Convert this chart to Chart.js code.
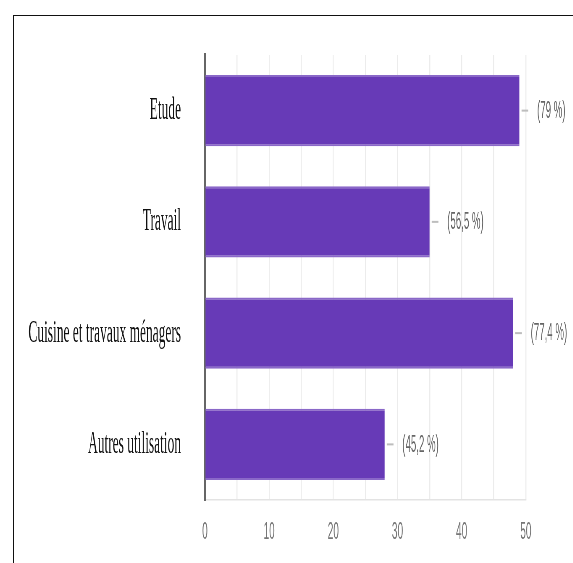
<!DOCTYPE html>
<html>
<head>
<meta charset="utf-8">
<script src="https://cdn.jsdelivr.net/npm/chart.js@4"></script>
<style>
  html, body { margin: 0; padding: 0; background: #fff; overflow: hidden; }
  #frame { position: absolute; left: 13px; top: 15px; width: 600px; height: 600px;
           border-left: 1px solid #111; border-top: 1px solid #111; }
  /* the original picture is squeezed sideways, so draw wide and squeeze */
  #wrap { position: absolute; left: 0; top: 0; width: 1364px; height: 563px;
          transform: scaleX(0.42); transform-origin: 0 0; }
</style>
</head>
<body>
<div id="frame"></div>
<div id="wrap"><canvas id="chart" width="1364" height="563"></canvas></div>
<script>
const categories = ['Etude', 'Travail', 'Cuisine et travaux ménagers', 'Autres utilisation'];
const counts = [49, 35, 48, 28];
const pctLabels = ['(79 %)', '(56,5 %)', '(77,4 %)', '(45,2 %)'];
const xTicks = [0, 10, 20, 30, 40, 50];

// dash + percentage text after every bar
const barLabels = {
  id: 'barLabels',
  afterDatasetsDraw(chart) {
    const ctx = chart.ctx;
    const meta = chart.getDatasetMeta(0);
    ctx.save();
    meta.data.forEach((bar, i) => {
      ctx.strokeStyle = '#bdbdbd';
      ctx.lineWidth = 2;
      ctx.beginPath();
      ctx.moveTo(bar.x + 5, bar.y);
      ctx.lineTo(bar.x + 21, bar.y);
      ctx.stroke();
      ctx.fillStyle = '#666';
      ctx.font = '23px "Liberation Sans", Arial, sans-serif';
      ctx.textAlign = 'left';
      ctx.textBaseline = 'middle';
      ctx.fillText(pctLabels[i], bar.x + 42, bar.y + 1);
    });
    ctx.restore();
  }
};

const ctx = document.getElementById('chart').getContext('2d');
new Chart(ctx, {
  type: 'bar',
  data: {
    labels: categories,
    datasets: [{
      data: counts,
      backgroundColor: '#673ab7',
      borderColor: '#8a68c8',
      borderWidth: { top: 2, bottom: 2, left: 0, right: 0 },
      borderSkipped: false,
      barPercentage: 0.64,
      categoryPercentage: 1
    }]
  },
  options: {
    indexAxis: 'y',
    responsive: false,
    animation: false,
    devicePixelRatio: 1,
    layout: { padding: { top: 55, right: 112, bottom: 0, left: 0 } },
    plugins: { legend: { display: false }, tooltip: { enabled: false } },
    scales: {
      x: {
        min: 0,
        max: 50,
        afterFit(scale) { scale.height = 63; },
        afterBuildTicks(scale) {
          const t = [];
          for (let v = 0; v <= 50; v += 5) t.push({ value: v });
          scale.ticks = t;
        },
        grid: { color: '#ececec', lineWidth: 2.4, drawTicks: false },
        border: { color: '#e3e3e3', width: 1.5 },
        ticks: {
          padding: 18,
          color: '#777',
          font: { family: '"Liberation Sans", Arial, sans-serif', size: 24 },
          callback: v => (xTicks.includes(v) ? String(v) : '')
        }
      },
      y: {
        afterFit(scale) {
          scale.width = 488;
          scale.paddingTop = 0;
          scale.paddingBottom = 0;
        },
        grid: { drawOnChartArea: false, drawTicks: false },
        border: { color: '#666', width: 4 },
        ticks: {
          padding: 57,
          color: '#111',
          font: { family: '"Liberation Serif", "Times New Roman", serif', size: 32 }
        }
      }
    }
  },
  plugins: [barLabels]
});
</script>
</body>
</html>
